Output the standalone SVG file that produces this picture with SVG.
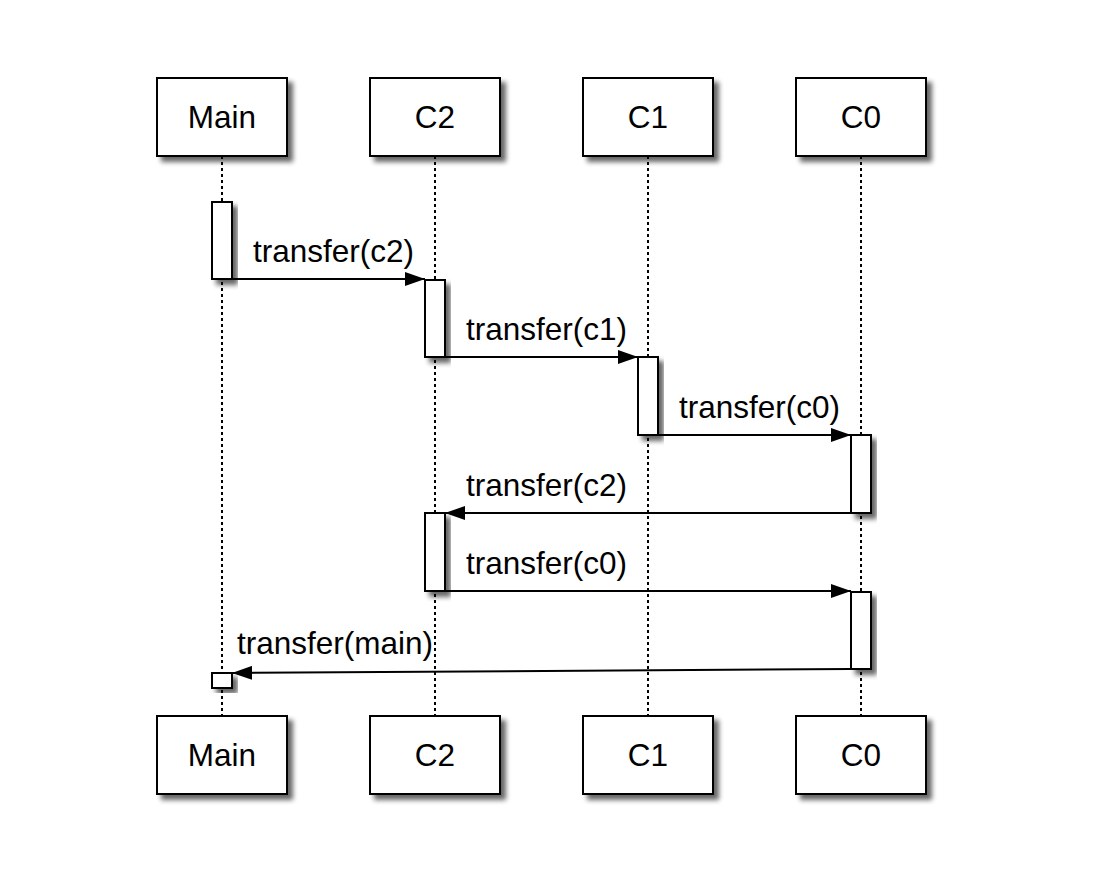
<svg xmlns="http://www.w3.org/2000/svg" width="1110" height="874" viewBox="0 0 1110 874">
<defs>
<filter id="sh" x="-30%" y="-30%" width="160%" height="160%">
<feGaussianBlur in="SourceAlpha" stdDeviation="2.5"/>
<feOffset dx="5" dy="5" result="b"/>
<feComponentTransfer><feFuncA type="linear" slope="0.6"/></feComponentTransfer>
<feMerge><feMergeNode/><feMergeNode in="SourceGraphic"/></feMerge>
</filter>
<marker id="ah" markerWidth="20" markerHeight="14" refX="20" refY="7" orient="auto" markerUnits="userSpaceOnUse">
<path d="M0,0 L20,7 L0,14 Z" fill="#000"/>
</marker>
</defs>
<style>
.box{fill:#fff;stroke:#000;stroke-width:2;filter:url(#sh)}
.act{fill:#fff;stroke:#000;stroke-width:2;filter:url(#sh)}
.life{stroke:#000;stroke-width:2;stroke-dasharray:3 3;fill:none}
.msg{stroke:#000;stroke-width:2;fill:none;marker-end:url(#ah)}
.t{font-family:"Liberation Sans",Arial,sans-serif;font-size:31.5px;fill:#000}
.c{text-anchor:middle}
</style>
<rect width="1110" height="874" fill="#fff"/>
<g id="lifelines">
<line class="life" x1="222" y1="156" x2="222" y2="716"/>
<line class="life" x1="435" y1="156" x2="435" y2="716"/>
<line class="life" x1="648" y1="156" x2="648" y2="716"/>
<line class="life" x1="861" y1="156" x2="861" y2="716"/>
</g>
<g id="main-top"><rect class="box" x="157" y="78" width="130" height="78"/><text class="t c" x="222" y="128">Main</text></g>
<g id="c2-top"><rect class="box" x="370" y="78" width="130" height="78"/><text class="t c" x="435" y="128">C2</text></g>
<g id="c1-top"><rect class="box" x="583" y="78" width="130" height="78"/><text class="t c" x="648" y="128">C1</text></g>
<g id="c0-top"><rect class="box" x="796" y="78" width="130" height="78"/><text class="t c" x="861" y="128">C0</text></g>
<g id="main-bottom"><rect class="box" x="157" y="716" width="130" height="78"/><text class="t c" x="222" y="766">Main</text></g>
<g id="c2-bottom"><rect class="box" x="370" y="716" width="130" height="78"/><text class="t c" x="435" y="766">C2</text></g>
<g id="c1-bottom"><rect class="box" x="583" y="716" width="130" height="78"/><text class="t c" x="648" y="766">C1</text></g>
<g id="c0-bottom"><rect class="box" x="796" y="716" width="130" height="78"/><text class="t c" x="861" y="766">C0</text></g>
<g id="activations">
<rect class="act" x="212" y="202" width="20" height="77"/>
<rect class="act" x="425" y="280" width="20" height="77"/>
<rect class="act" x="638" y="357" width="20" height="78"/>
<rect class="act" x="851" y="435" width="20" height="78"/>
<rect class="act" x="425" y="513" width="20" height="78"/>
<rect class="act" x="851" y="592" width="20" height="77"/>
<rect class="act" x="212" y="673" width="20" height="15"/>
</g>
<g id="connectors">
<line class="msg" x1="232" y1="279" x2="425" y2="279"/>
<text class="t" x="253" y="262">transfer(c2)</text>
<line class="msg" x1="445" y1="357" x2="638" y2="357"/>
<text class="t" x="466" y="340">transfer(c1)</text>
<line class="msg" x1="658" y1="435" x2="851" y2="435"/>
<text class="t" x="679" y="418">transfer(c0)</text>
<line class="msg" x1="851" y1="513" x2="445" y2="513"/>
<text class="t" x="466" y="496">transfer(c2)</text>
<line class="msg" x1="445" y1="591" x2="851" y2="591"/>
<text class="t" x="466" y="574">transfer(c0)</text>
<line class="msg" x1="851" y1="669" x2="232" y2="673"/>
<text class="t" x="237" y="654">transfer(main)</text>
</g>
</svg>
